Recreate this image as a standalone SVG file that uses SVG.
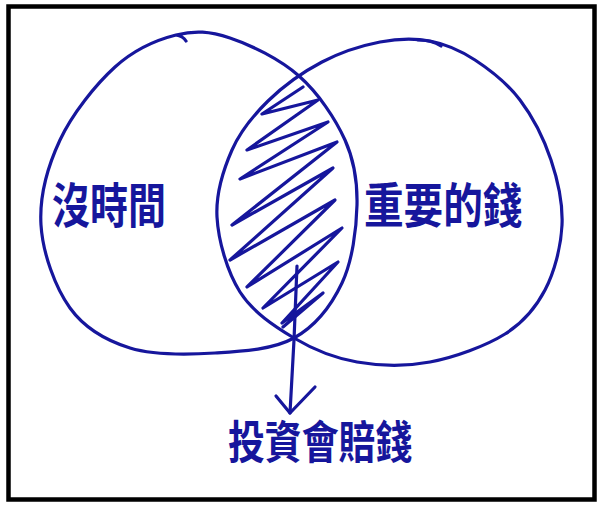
<svg xmlns="http://www.w3.org/2000/svg" width="600" height="507" viewBox="0 0 600 507">
  <style>
    .ink { fill: none; stroke: #16169c; stroke-width: 3.2; stroke-linecap: round; stroke-linejoin: round; }
    .label { font-family: "Noto Sans CJK TC", "Noto Sans CJK SC", sans-serif; font-weight: 700; fill: #16169c; }
  </style>
  <rect x="0" y="0" width="600" height="507" fill="#ffffff"/>
  <rect x="8.5" y="6.5" width="586" height="493" fill="none" stroke="#000000" stroke-width="4.5"/>

  <g id="circle-left">
    <path class="ink" d="M176 35 C195.2 30.2 209.5 31.2 230 38 C250.5 44.8 279.8 59 299 76 C318.2 93 335.3 118.5 345 140 C354.7 161.5 357.5 181.2 357 205 C356.5 228.8 352.5 260.8 342 283 C331.5 305.2 315.2 326.3 294 338 C272.8 349.7 242.3 351.3 215 353 C187.7 354.7 154.2 355.5 130 348 C105.8 340.5 84.8 328.5 70 308 C55.2 287.5 42.7 253 41 225 C39.3 197 47.7 166.3 60 140 C72.3 113.7 95.7 84.5 115 67 C134.3 49.5 156.8 39.8 176 35 Q183 36 186 41"/>
  </g>

  <g id="circle-right">
    <path class="ink" d="M430 41 C445.8 44 460 50.2 475 60 C490 69.8 507.3 83.3 520 100 C532.7 116.7 544 139.2 551 160 C558 180.8 563 203.3 562 225 C561 246.7 554.5 271.8 545 290 C535.5 308.2 524.2 322 505 334 C485.8 346 454.7 357.3 430 362 C405.3 366.7 379.7 366 357 362 C334.3 358 313.5 349.7 294 338 C274.5 326.3 252.8 312.2 240 292 C227.2 271.8 218.3 240.7 217 217 C215.7 193.3 223.5 169.3 232 150 C240.5 130.7 253 115.7 268 101 C283 86.3 303.3 71.8 322 62 C340.7 52.2 362 45.5 380 42 C398 38.5 414.2 38 430 41 Z"/>
    <path class="ink" d="M418 40 Q432 40 441 46"/>
  </g>

  <g id="intersection-hatch">
    <polyline class="ink" stroke-width="3.8" points="303,87 262,114 318,100 247,150 328,122 240,179 337,142 232,225 333,168 230,260 335,200 247,287 342,228 263,308 338,262 282,323 323,293 283,327"/>
  </g>

  <g id="connectors">
    <path class="ink" d="M297 266 L294 340 L290 413"/>
    <path class="ink" d="M276 396 L290 413 L315 387"/>
  </g>

  <g id="label-left">
    <text class="label" font-size="40" transform="translate(52,223) scale(0.95,1.2)">沒時間</text>
  </g>
  <g id="label-right">
    <text class="label" font-size="40" transform="translate(364,223) scale(0.99,1.2)">重要的錢</text>
  </g>
  <g id="label-bottom">
    <text class="label" font-size="38" transform="translate(228,459) scale(0.97,1.2)">投資會賠錢</text>
  </g>
</svg>
